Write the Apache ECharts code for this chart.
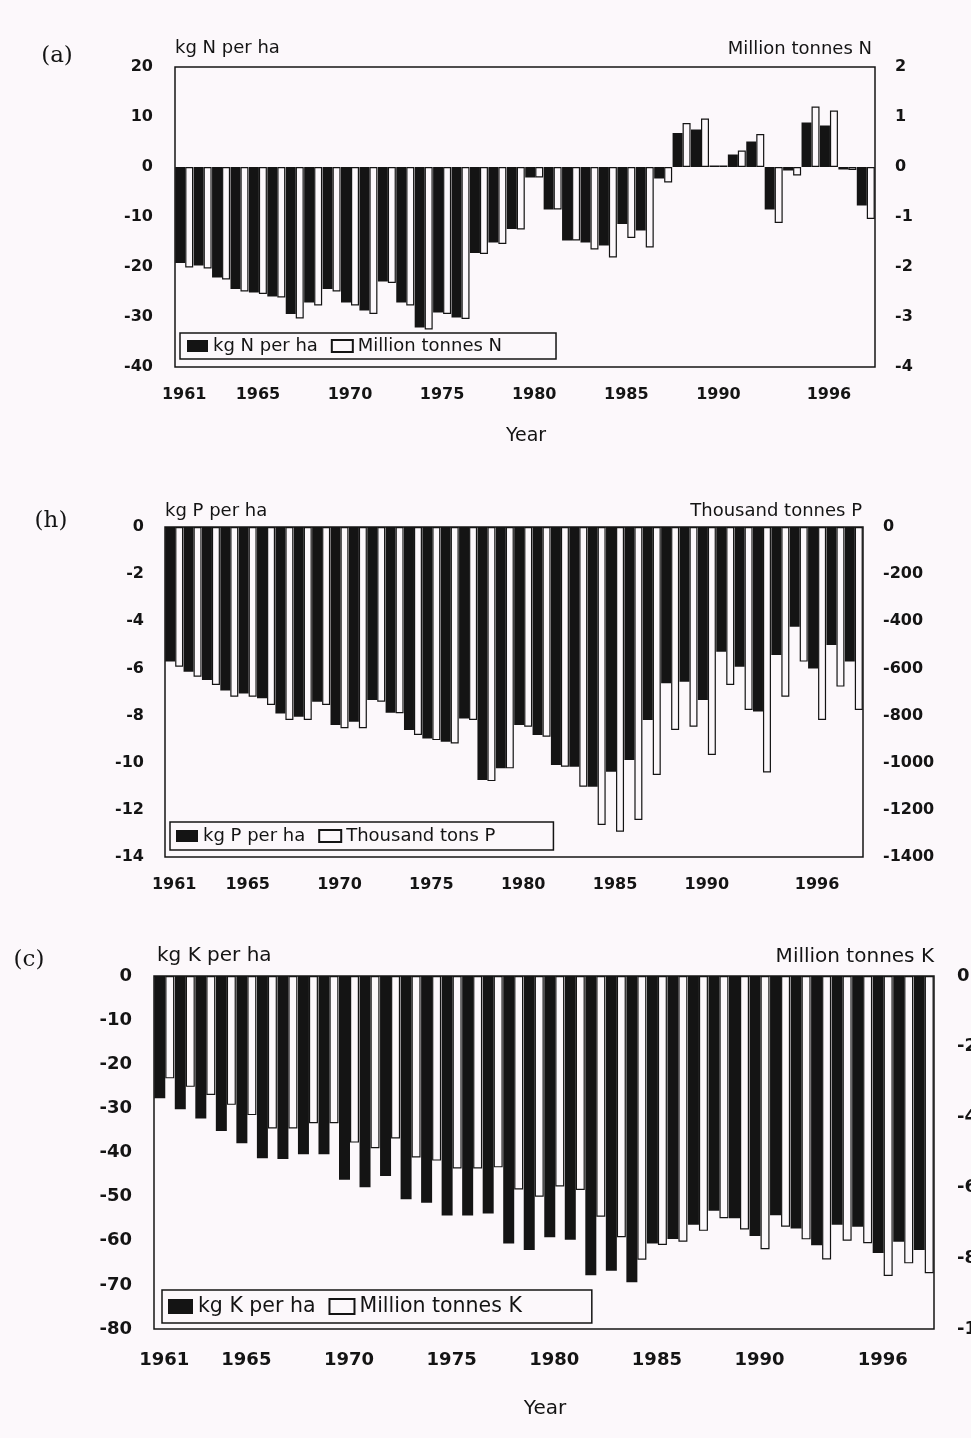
<!DOCTYPE html>
<html><head><meta charset="utf-8">
<script src="https://cdn.jsdelivr.net/npm/echarts@6/dist/echarts.min.js"></script>
<style>html,body{margin:0;padding:0;background:#fcf8fb}#c{width:971px;height:1438px}</style>
</head><body><div id="c"></div>
<script>
const years = ['1961','1962','1963','1964','1965','1966','1967','1968','1969','1970',
  '1971','1972','1973','1974','1975','1976','1977','1978','1979','1980',
  '1981','1982','1983','1984','1985','1986','1987','1988','1989','1990',
  '1991','1992','1993','1994','1995','1996','1997','1998'];
const shownYears = ['1961','1965','1970','1975','1980','1985','1990','1996'];

// (a) nitrogen balance
const nKgPerHa = [-19.2,-19.7,-22.1,-24.4,-25.1,-25.9,-29.4,-27.1,-24.4,-27.1,
  -28.7,-22.9,-27.1,-32.1,-29.1,-30.1,-17.2,-15.1,-12.4,-2.1,
  -8.5,-14.7,-15.1,-15.7,-11.4,-12.7,-2.3,6.8,7.5,0.3,
  2.5,5.1,-8.5,-0.7,8.9,8.3,-0.5,-7.7];
const nMillionT = [-2.01,-2.03,-2.25,-2.49,-2.54,-2.61,-3.03,-2.77,-2.49,-2.77,
  -2.94,-2.32,-2.77,-3.25,-2.94,-3.04,-1.74,-1.54,-1.25,-0.21,
  -0.85,-1.47,-1.65,-1.81,-1.42,-1.61,-0.31,0.88,0.97,0.03,
  0.33,0.66,-1.12,-0.17,1.21,1.13,-0.06,-1.04];

// (b) phosphorus balance
const pKgPerHa = [-5.71,-6.14,-6.49,-6.94,-7.06,-7.27,-7.91,-8.05,-7.41,-8.40,
  -8.26,-7.34,-7.88,-8.61,-8.97,-9.11,-8.12,-10.73,-10.24,-8.40,
  -8.82,-10.10,-10.17,-11.02,-10.38,-9.89,-8.19,-6.63,-6.56,-7.34,
  -5.29,-5.93,-7.83,-5.43,-4.23,-6.00,-5.01,-5.71];
const pThousandT = [-593,-635,-670,-720,-720,-755,-819,-819,-755,-854,
  -854,-741,-790,-882,-904,-918,-819,-1078,-1024,-847,
  -890,-1017,-1102,-1264,-1293,-1243,-1052,-861,-847,-967,
  -670,-776,-1041,-720,-571,-819,-677,-776];

// (c) potassium balance
const kKgPerHa = [-27.7,-30.2,-32.3,-35.1,-37.9,-41.3,-41.5,-40.4,-40.4,-46.2,
  -47.9,-45.3,-50.6,-51.4,-54.3,-54.3,-53.8,-60.6,-62.1,-59.2,
  -59.8,-67.8,-66.8,-69.4,-60.6,-59.6,-56.4,-53.2,-54.9,-58.9,
  -54.2,-57.2,-61.0,-56.4,-56.8,-62.8,-60.2,-62.1];
const kMillionT = [-2.90,-3.14,-3.37,-3.65,-3.94,-4.32,-4.32,-4.17,-4.17,-4.72,
  -4.88,-4.60,-5.14,-5.23,-5.45,-5.45,-5.42,-6.05,-6.25,-5.96,
  -6.06,-6.82,-7.40,-8.04,-7.62,-7.53,-7.22,-6.86,-7.18,-7.74,
  -7.10,-7.46,-8.03,-7.50,-7.57,-8.50,-8.14,-8.42];

const leftTicksN = {min:-40, max:20, interval:10};
const rightTicksN = {min:-4, max:2, interval:1};
const leftTicksP = {min:-14, max:0, interval:2};
const rightTicksP = {min:-1400, max:0, interval:200};
const leftTicksK = {min:-80, max:0, interval:10};
const rightTicksK = {min:-10, max:0, interval:2};

const FONT = '"DejaVu Sans", sans-serif';
const INK = '#141414';
const BG = '#fcf8fb';

function xAx(gi, size, margin) {
  return {type:'category', gridIndex:gi, data:years, boundaryGap:true,
    axisLine:{show:false}, axisTick:{show:false}, splitLine:{show:false},
    axisLabel:{interval:(i, v) => shownYears.indexOf(v) >= 0, fontFamily:FONT,
      fontWeight:'bold', fontSize:size, color:INK, margin:margin}};
}
function yAx(gi, pos, t, size, margin) {
  return {type:'value', gridIndex:gi, position:pos, min:t.min, max:t.max, interval:t.interval,
    axisLine:{show:false}, axisTick:{show:false}, splitLine:{show:false},
    axisLabel:{fontFamily:FONT, fontWeight:'bold', fontSize:size, color:INK, margin:margin,
      formatter: v => String(v)}};
}
function blackBar(name, xi, yi, data, w) {
  return {type:'bar', name:name, xAxisIndex:xi, yAxisIndex:yi, data:data, barWidth:w, barGap:'0%',
    itemStyle:{color:INK}, emphasis:{disabled:true}};
}
function whiteBar(name, xi, yi, data, w) {
  return {type:'bar', name:name, xAxisIndex:xi, yAxisIndex:yi, data:data, barWidth:w, barGap:'0%',
    itemStyle:{color:BG, borderColor:INK, borderWidth:1.2}, emphasis:{disabled:true}};
}
function legend(names, left, top, size, iw, ih, pad) {
  return {data:names, left:left, top:top, orient:'horizontal', icon:'rect', itemWidth:iw, itemHeight:ih,
    itemGap:13, padding:pad, borderColor:INK, borderWidth:1.5, selectedMode:false,
    textStyle:{fontFamily:FONT, fontSize:size, color:INK}};
}
function txt(text, x, y, size, align, family) {
  return {type:'text', style:{text:text, x:x, y:y, fill:INK, textAlign:align, textVerticalAlign:'middle',
    font: size + 'px ' + (family || FONT)}};
}
function grid(l, t, w, h) {
  return {left:l, top:t, width:w, height:h, show:true, borderColor:INK, borderWidth:1.5,
    backgroundColor:'transparent', containLabel:false, outerBoundsMode:'none'};
}

const option = {
  animation:false,
  backgroundColor:BG,
  grid:[grid(175, 67, 700, 300), grid(165, 527, 698, 330), grid(154, 976, 780, 353)],
  xAxis:[xAx(0, 16, 20), xAx(1, 16, 20), xAx(2, 18, 22)],
  yAxis:[
    yAx(0, 'left', leftTicksN, 16, 22), yAx(0, 'right', rightTicksN, 16, 20),
    yAx(1, 'left', leftTicksP, 16, 21), yAx(1, 'right', rightTicksP, 16, 20),
    yAx(2, 'left', leftTicksK, 18, 22), yAx(2, 'right', rightTicksK, 18, 23)
  ],
  legend:[
    legend(['kg N per ha','Million tonnes N'], 180, 333, 18, 21, 12, [4,54,4,7]),
    legend(['kg P per ha','Thousand tons P'], 170, 822, 18, 22, 12, [5,58,5,6]),
    legend(['kg K per ha','Million tonnes K'], 162, 1290, 20.5, 25, 15, [6,70,6,6])
  ],
  series:[
    blackBar('kg N per ha', 0, 0, nKgPerHa, 10),
    whiteBar('Million tonnes N', 0, 1, nMillionT, 8),
    blackBar('kg P per ha', 1, 2, pKgPerHa, 10),
    whiteBar('Thousand tons P', 1, 3, pThousandT, 8),
    blackBar('kg K per ha', 2, 4, kKgPerHa, 11),
    whiteBar('Million tonnes K', 2, 5, kMillionT, 9)
  ],
  graphic:[
    txt('(a)', 57, 56, 23, 'center', '"DejaVu Serif", serif'),
    txt('kg N per ha', 175, 48, 18, 'left'),
    txt('Million tonnes N', 872, 49, 18, 'right'),
    txt('Year', 526, 436, 19, 'center'),
    txt('(h)', 51, 521, 23, 'center', '"DejaVu Serif", serif'),
    txt('kg P per ha', 165, 511, 18, 'left'),
    txt('Thousand tonnes P', 862, 511, 18, 'right'),
    txt('(c)', 29, 960, 23, 'center', '"DejaVu Serif", serif'),
    txt('kg K per ha', 157, 956, 20, 'left'),
    txt('Million tonnes K', 934, 957, 20, 'right'),
    txt('Year', 545, 1409, 20, 'center')
  ]
};
const chart = echarts.init(document.getElementById('c'));
chart.setOption(option);
</script>
</body></html>
